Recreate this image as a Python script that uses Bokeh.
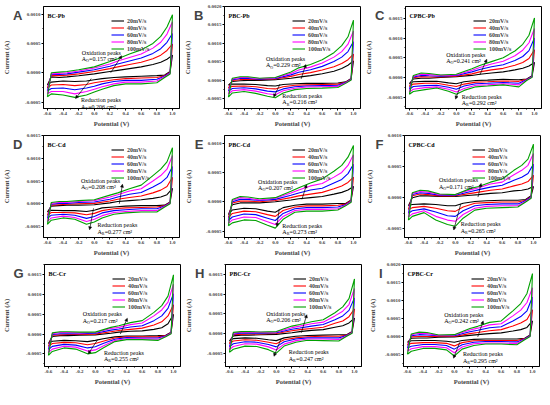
from bokeh.plotting import figure
from bokeh.layouts import column, row
from bokeh.models import (FixedTicker, PrintfTickFormatter, Label, Arrow, NormalHead,
                          Legend, LegendItem, Range1d, LinearAxis)
from bokeh.embed import file_html
from bokeh.resources import INLINE

RATES = ["20mV/s", "40mV/s", "60mV/s", "80mV/s", "100mV/s"]
COLORS = ["#000000", "#ff0000", "#0000ff", "#ff00ff", "#00a000"]

# potential grid (V): anodic (upper) branch and cathodic (lower) branch
UX = [-0.6, -0.55, -0.45, -0.35, -0.2, 0.0, 0.2, 0.3, 0.45, 0.6, 0.75, 0.85, 0.93, 1.0]
LX = [0.97, 0.9, 0.8, 0.6, 0.4, 0.25, 0.1, 0.0, -0.1, -0.25, -0.4, -0.55, -0.6]

# currents in mA, one list per scan rate (20, 40, 60, 80, 100 mV/s)
A_up = [[-0.21, -0.07, -0.08, -0.07, -0.05, -0.02, 0.02, 0.04, 0.07, 0.10, 0.14, 0.18, 0.23, 0.30],
        [-0.26, -0.05, -0.05, -0.04, -0.02, 0.02, 0.07, 0.10, 0.14, 0.18, 0.24, 0.30, 0.38, 0.49],
        [-0.31, -0.03, -0.03, -0.02, 0.01, 0.05, 0.11, 0.15, 0.20, 0.25, 0.33, 0.41, 0.52, 0.67],
        [-0.36, -0.02, -0.01, 0.00, 0.03, 0.08, 0.15, 0.20, 0.26, 0.32, 0.42, 0.52, 0.66, 0.87],
        [-0.41, 0.00, 0.01, 0.02, 0.05, 0.10, 0.19, 0.24, 0.32, 0.39, 0.50, 0.62, 0.78, 0.99]]
A_down = [[0.02, -0.04, -0.05, -0.06, -0.07, -0.08, -0.10, -0.12, -0.14, -0.15, -0.14, -0.16, -0.21],
          [0.01, -0.05, -0.08, -0.09, -0.10, -0.12, -0.15, -0.17, -0.20, -0.22, -0.20, -0.21, -0.26],
          [0.00, -0.06, -0.11, -0.13, -0.13, -0.15, -0.19, -0.23, -0.26, -0.29, -0.26, -0.27, -0.31],
          [-0.01, -0.07, -0.14, -0.16, -0.16, -0.19, -0.24, -0.28, -0.32, -0.36, -0.32, -0.32, -0.36],
          [-0.02, -0.08, -0.17, -0.19, -0.19, -0.22, -0.28, -0.33, -0.38, -0.42, -0.38, -0.36, -0.41]]

B_up = [[-0.13, -0.03, -0.01, 0.00, 0.00, 0.02, 0.06, 0.09, 0.13, 0.18, 0.25, 0.32, 0.41, 0.53],
        [-0.21, 0.00, 0.02, 0.03, 0.02, 0.04, 0.11, 0.16, 0.21, 0.28, 0.37, 0.46, 0.56, 0.71],
        [-0.29, 0.02, 0.05, 0.05, 0.03, 0.05, 0.15, 0.22, 0.29, 0.38, 0.51, 0.63, 0.78, 1.05],
        [-0.37, 0.04, 0.08, 0.08, 0.05, 0.07, 0.19, 0.28, 0.36, 0.47, 0.63, 0.78, 0.98, 1.34],
        [-0.45, 0.06, 0.10, 0.10, 0.06, 0.08, 0.23, 0.34, 0.43, 0.56, 0.75, 0.94, 1.18, 1.63]]
B_down = [[0.05, -0.04, -0.07, -0.08, -0.08, -0.09, -0.11, -0.15, -0.14, -0.11, -0.10, -0.10, -0.13],
          [0.04, -0.05, -0.10, -0.11, -0.12, -0.13, -0.17, -0.23, -0.22, -0.17, -0.15, -0.16, -0.21],
          [0.03, -0.06, -0.13, -0.14, -0.15, -0.17, -0.23, -0.31, -0.29, -0.23, -0.20, -0.22, -0.29],
          [0.02, -0.07, -0.16, -0.17, -0.18, -0.21, -0.28, -0.39, -0.36, -0.29, -0.25, -0.28, -0.37],
          [0.01, -0.08, -0.19, -0.21, -0.22, -0.25, -0.34, -0.47, -0.43, -0.35, -0.30, -0.34, -0.45]]

C_up = [[-0.16, -0.04, -0.02, -0.02, 0.00, 0.02, 0.05, 0.08, 0.11, 0.14, 0.19, 0.23, 0.29, 0.38],
        [-0.23, -0.01, 0.02, 0.01, 0.01, 0.03, 0.09, 0.14, 0.19, 0.23, 0.31, 0.38, 0.48, 0.70],
        [-0.30, 0.01, 0.05, 0.04, 0.03, 0.05, 0.14, 0.20, 0.27, 0.32, 0.43, 0.53, 0.68, 1.00],
        [-0.37, 0.03, 0.08, 0.07, 0.05, 0.06, 0.18, 0.25, 0.34, 0.41, 0.55, 0.69, 0.88, 1.24],
        [-0.43, 0.05, 0.11, 0.10, 0.06, 0.08, 0.22, 0.30, 0.40, 0.50, 0.67, 0.84, 1.07, 1.51]]
C_down = [[0.04, -0.04, -0.06, -0.05, -0.07, -0.08, -0.11, -0.16, -0.14, -0.10, -0.10, -0.11, -0.16],
          [0.03, -0.05, -0.10, -0.09, -0.11, -0.12, -0.17, -0.23, -0.20, -0.15, -0.15, -0.17, -0.23],
          [0.02, -0.06, -0.15, -0.13, -0.15, -0.16, -0.22, -0.30, -0.25, -0.20, -0.21, -0.23, -0.30],
          [0.01, -0.07, -0.19, -0.16, -0.19, -0.20, -0.28, -0.37, -0.30, -0.24, -0.26, -0.30, -0.37],
          [0.00, -0.08, -0.24, -0.19, -0.22, -0.24, -0.33, -0.43, -0.35, -0.27, -0.31, -0.36, -0.43]]

D_up = [[-0.18, -0.05, -0.04, -0.03, -0.03, -0.02, 0.02, 0.05, 0.07, 0.09, 0.12, 0.15, 0.20, 0.34],
        [-0.25, -0.03, -0.02, -0.01, 0.00, 0.01, 0.06, 0.10, 0.14, 0.17, 0.24, 0.30, 0.38, 0.58],
        [-0.32, -0.01, 0.01, 0.01, 0.03, 0.04, 0.10, 0.15, 0.21, 0.25, 0.37, 0.46, 0.58, 0.82],
        [-0.39, 0.01, 0.03, 0.03, 0.05, 0.07, 0.15, 0.20, 0.28, 0.33, 0.50, 0.62, 0.76, 1.06],
        [-0.45, 0.03, 0.05, 0.05, 0.07, 0.09, 0.19, 0.24, 0.33, 0.41, 0.62, 0.76, 0.92, 1.23]]
D_down = [[0.04, -0.03, -0.04, -0.04, -0.05, -0.07, -0.09, -0.14, -0.17, -0.15, -0.15, -0.14, -0.18],
          [0.03, -0.04, -0.07, -0.08, -0.09, -0.11, -0.15, -0.21, -0.24, -0.20, -0.19, -0.19, -0.25],
          [0.02, -0.05, -0.11, -0.11, -0.13, -0.15, -0.20, -0.28, -0.32, -0.25, -0.23, -0.25, -0.32],
          [0.01, -0.06, -0.15, -0.15, -0.17, -0.19, -0.26, -0.34, -0.39, -0.30, -0.27, -0.31, -0.39],
          [0.00, -0.07, -0.18, -0.18, -0.20, -0.23, -0.31, -0.40, -0.45, -0.34, -0.31, -0.36, -0.45]]

E_up = [[-0.22, -0.05, -0.02, -0.02, -0.02, 0.00, 0.03, 0.05, 0.07, 0.09, 0.13, 0.16, 0.20, 0.26],
        [-0.27, -0.02, 0.01, 0.01, 0.00, 0.02, 0.07, 0.10, 0.13, 0.16, 0.22, 0.27, 0.33, 0.42],
        [-0.32, 0.00, 0.04, 0.04, 0.02, 0.04, 0.11, 0.15, 0.20, 0.23, 0.32, 0.38, 0.48, 0.64],
        [-0.37, 0.02, 0.07, 0.06, 0.03, 0.06, 0.15, 0.20, 0.27, 0.31, 0.42, 0.50, 0.62, 0.80],
        [-0.41, 0.04, 0.09, 0.08, 0.05, 0.07, 0.18, 0.24, 0.32, 0.39, 0.52, 0.62, 0.76, 0.96]]
E_down = [[0.03, -0.03, -0.03, -0.04, -0.04, -0.06, -0.10, -0.18, -0.16, -0.12, -0.11, -0.14, -0.22],
          [0.02, -0.04, -0.06, -0.07, -0.07, -0.09, -0.15, -0.25, -0.22, -0.17, -0.16, -0.20, -0.27],
          [0.01, -0.05, -0.09, -0.10, -0.10, -0.12, -0.20, -0.32, -0.28, -0.22, -0.21, -0.26, -0.32],
          [0.00, -0.06, -0.12, -0.13, -0.13, -0.15, -0.25, -0.39, -0.34, -0.27, -0.26, -0.31, -0.37],
          [-0.01, -0.07, -0.14, -0.16, -0.16, -0.18, -0.30, -0.45, -0.40, -0.32, -0.31, -0.36, -0.41]]

F_up = [[-0.13, 0.00, 0.03, 0.03, 0.02, 0.02, 0.04, 0.05, 0.07, 0.08, 0.11, 0.12, 0.14, 0.18],
        [-0.19, 0.03, 0.06, 0.05, 0.03, 0.03, 0.07, 0.09, 0.12, 0.14, 0.19, 0.22, 0.26, 0.36],
        [-0.25, 0.05, 0.08, 0.07, 0.04, 0.04, 0.10, 0.13, 0.17, 0.20, 0.28, 0.33, 0.39, 0.54],
        [-0.31, 0.07, 0.10, 0.09, 0.05, 0.05, 0.13, 0.16, 0.22, 0.25, 0.37, 0.44, 0.52, 0.71],
        [-0.36, 0.08, 0.12, 0.11, 0.06, 0.05, 0.15, 0.18, 0.25, 0.30, 0.44, 0.52, 0.62, 0.86]]
F_down = [[0.03, -0.03, -0.04, -0.04, -0.05, -0.06, -0.09, -0.13, -0.13, -0.11, -0.10, -0.11, -0.13],
          [0.02, -0.04, -0.07, -0.07, -0.08, -0.09, -0.15, -0.22, -0.21, -0.17, -0.14, -0.16, -0.19],
          [0.01, -0.05, -0.10, -0.10, -0.11, -0.13, -0.21, -0.30, -0.29, -0.23, -0.18, -0.21, -0.25],
          [0.00, -0.06, -0.13, -0.13, -0.14, -0.17, -0.27, -0.38, -0.36, -0.30, -0.21, -0.26, -0.31],
          [-0.01, -0.07, -0.15, -0.16, -0.17, -0.20, -0.33, -0.46, -0.43, -0.36, -0.24, -0.30, -0.36]]

G_up = [[-0.24, -0.06, -0.04, -0.04, -0.03, -0.02, 0.02, 0.05, 0.07, 0.08, 0.12, 0.16, 0.26, 0.50],
        [-0.31, -0.03, -0.02, -0.01, -0.01, 0.00, 0.06, 0.09, 0.12, 0.15, 0.23, 0.31, 0.46, 0.74],
        [-0.39, -0.01, 0.01, 0.01, 0.01, 0.02, 0.10, 0.13, 0.18, 0.21, 0.34, 0.46, 0.65, 1.02],
        [-0.47, 0.01, 0.04, 0.04, 0.03, 0.04, 0.14, 0.17, 0.24, 0.28, 0.46, 0.61, 0.81, 1.26],
        [-0.54, 0.03, 0.06, 0.06, 0.05, 0.05, 0.17, 0.21, 0.29, 0.34, 0.55, 0.72, 0.96, 1.50]]
G_down = [[0.05, -0.03, -0.04, -0.05, -0.05, -0.07, -0.12, -0.16, -0.19, -0.17, -0.16, -0.18, -0.24],
          [0.04, -0.04, -0.07, -0.07, -0.07, -0.10, -0.18, -0.24, -0.27, -0.22, -0.21, -0.24, -0.31],
          [0.03, -0.05, -0.10, -0.10, -0.09, -0.13, -0.24, -0.32, -0.35, -0.28, -0.26, -0.31, -0.39],
          [0.02, -0.06, -0.13, -0.12, -0.12, -0.16, -0.30, -0.40, -0.43, -0.33, -0.31, -0.38, -0.47],
          [0.01, -0.07, -0.16, -0.14, -0.14, -0.19, -0.35, -0.47, -0.50, -0.38, -0.35, -0.44, -0.54]]

H_up = [[-0.19, -0.06, -0.04, -0.04, -0.03, -0.02, 0.02, 0.05, 0.08, 0.10, 0.16, 0.20, 0.27, 0.39],
        [-0.26, -0.03, -0.02, -0.01, -0.01, 0.00, 0.07, 0.10, 0.13, 0.16, 0.26, 0.32, 0.43, 0.63],
        [-0.34, -0.01, 0.01, 0.01, 0.01, 0.02, 0.11, 0.14, 0.19, 0.23, 0.35, 0.45, 0.59, 0.91],
        [-0.41, 0.01, 0.03, 0.03, 0.03, 0.04, 0.15, 0.19, 0.25, 0.29, 0.45, 0.57, 0.74, 1.15],
        [-0.48, 0.03, 0.05, 0.05, 0.04, 0.05, 0.19, 0.23, 0.30, 0.35, 0.53, 0.68, 0.89, 1.39]]
H_down = [[0.05, -0.03, -0.03, -0.04, -0.05, -0.07, -0.11, -0.18, -0.16, -0.12, -0.11, -0.13, -0.19],
          [0.04, -0.04, -0.07, -0.07, -0.08, -0.11, -0.16, -0.26, -0.22, -0.17, -0.16, -0.19, -0.26],
          [0.03, -0.05, -0.11, -0.11, -0.11, -0.14, -0.21, -0.34, -0.28, -0.22, -0.21, -0.26, -0.34],
          [0.02, -0.06, -0.15, -0.14, -0.14, -0.18, -0.27, -0.42, -0.34, -0.27, -0.26, -0.33, -0.41],
          [0.01, -0.07, -0.19, -0.18, -0.17, -0.22, -0.32, -0.50, -0.41, -0.33, -0.32, -0.40, -0.48]]

I_up = [[-0.15, -0.04, -0.03, -0.03, -0.01, 0.00, 0.04, 0.06, 0.09, 0.11, 0.16, 0.20, 0.26, 0.44],
        [-0.23, 0.00, 0.01, 0.01, 0.01, 0.01, 0.09, 0.12, 0.17, 0.20, 0.30, 0.38, 0.48, 0.75],
        [-0.31, 0.03, 0.06, 0.05, 0.03, 0.03, 0.14, 0.18, 0.25, 0.28, 0.44, 0.56, 0.72, 1.10],
        [-0.40, 0.06, 0.10, 0.09, 0.04, 0.05, 0.19, 0.24, 0.33, 0.36, 0.58, 0.74, 0.95, 1.36],
        [-0.48, 0.08, 0.13, 0.12, 0.05, 0.06, 0.23, 0.29, 0.40, 0.44, 0.72, 0.92, 1.20, 1.75]]
I_down = [[0.05, -0.04, -0.06, -0.06, -0.06, -0.07, -0.10, -0.15, -0.12, -0.10, -0.10, -0.11, -0.15],
          [0.04, -0.05, -0.10, -0.10, -0.10, -0.11, -0.16, -0.25, -0.18, -0.16, -0.16, -0.18, -0.23],
          [0.03, -0.06, -0.14, -0.13, -0.13, -0.15, -0.22, -0.34, -0.24, -0.21, -0.21, -0.26, -0.31],
          [0.02, -0.07, -0.18, -0.17, -0.17, -0.19, -0.28, -0.44, -0.30, -0.27, -0.27, -0.33, -0.40],
          [0.01, -0.08, -0.22, -0.20, -0.20, -0.24, -0.34, -0.53, -0.36, -0.32, -0.32, -0.40, -0.48]]

LETTERS = ["A", "B", "C", "D", "E", "F", "G", "H", "I"]
NAMES = ["BC-Pb", "PBC-Pb", "CPBC-Pb", "BC-Cd", "PBC-Cd", "CPBC-Cd", "BC-Cr", "PBC-Cr", "CPBC-Cr"]
UPS = [A_up, B_up, C_up, D_up, E_up, F_up, G_up, H_up, I_up]
DOWNS = [A_down, B_down, C_down, D_down, E_down, F_down, G_down, H_down, I_down]
AO = ["0.157", "0.229", "0.241", "0.208", "0.207", "0.171", "0.217", "0.206", "0.242"]
AR = ["0.206", "0.216", "0.292", "0.277", "0.273", "0.265", "0.255", "0.247", "0.295"]
X_TICKS = [-0.6, -0.4, -0.2, 0.0, 0.2, 0.4, 0.6, 0.8, 1.0]
X_MINOR = [-0.5, -0.3, -0.1, 0.1, 0.3, 0.5, 0.7, 0.9]

# axis limits (mA) and annotation placement (layout settings)
YLIM = [(-0.61, 1.13), (-0.76, 2.0), (-0.79, 1.8), (-0.74, 1.5), (-0.61, 1.13),
        (-0.64, 1.0), (-0.82, 1.76), (-0.84, 1.76), (-0.82, 2.0)]
OX_TXT = [(-0.16, 0.34), (-0.12, 0.58), (-0.13, 0.58), (-0.17, 0.51), (-0.22, 0.34),
          (-0.21, 0.28), (-0.16, 0.50), (-0.13, 0.51), (-0.13, 0.61)]
OX_ARR = [(0.21, 0.0, 0.35, 0.29), (0.33, 0.04, 0.39, 0.43), (0.30, 0.06, 0.39, 0.46),
          (0.32, 0.0, 0.36, 0.43), (0.34, 0.04, 0.40, 0.29), (0.29, 0.01, 0.33, 0.23),
          (0.32, 0.0, 0.41, 0.40), (0.32, 0.02, 0.39, 0.48), (0.30, 0.0, 0.37, 0.44)]
RE_TXT = [(-0.17, -0.47), (0.09, -0.42), (0.07, -0.49), (0.04, -0.47), (0.09, -0.41),
          (0.07, -0.43), (0.11, -0.47), (0.16, -0.48), (0.11, -0.48)]
RE_ARR = [(-0.04, -0.10, -0.24, -0.44), (0.06, -0.10, -0.02, -0.45), (0.07, -0.13, -0.01, -0.55),
          (-0.01, -0.10, -0.06, -0.57), (0.05, -0.12, 0.02, -0.42), (0.07, -0.10, -0.02, -0.52),
          (0.03, -0.14, -0.09, -0.50), (0.06, -0.14, -0.03, -0.58), (0.07, -0.15, -0.01, -0.59)]

SERIF = "Liberation Serif"
BL, BR, BT, BB = 40, 2, 6, 21
FW, FH = 136, 102
XLO, XHI = -0.65, 1.09


def txt(p, x, y, text, size="6px", style="normal", xo=0, yo=0, font=SERIF, base="middle"):
    p.add_layout(Label(x=x, y=y, text=text, text_font=font,
                       text_font_size=size, text_font_style=style, text_baseline=base,
                       text_align="left", x_offset=xo, y_offset=yo, text_color="black"))


def area(p, x, y, sub, val, yo):
    txt(p, x, y, "A", yo=yo)
    txt(p, x, y, sub, size="4px", xo=4.3, yo=yo - 1.6)
    txt(p, x, y, "=" + val + " cm\u00b2", xo=7.2, yo=yo)


def style_axis(ax, size="5px"):
    ax.axis_label_text_font = SERIF
    ax.axis_label_text_font_style = "bold"
    ax.axis_label_text_font_size = "6.5px"
    ax.axis_label_standoff = 2
    ax.major_label_text_font = SERIF
    ax.major_label_text_font_style = "bold"
    ax.major_label_text_font_size = size
    ax.major_label_standoff = 1
    ax.major_tick_in = 0
    ax.major_tick_out = 2
    ax.minor_tick_in = 0
    ax.minor_tick_out = 1
    ax.axis_line_color = "black"
    ax.major_tick_line_color = "black"
    ax.minor_tick_line_color = "black"


def make(i):
    lo, hi = YLIM[i]
    p = figure(frame_width=FW, frame_height=FH, x_range=Range1d(XLO, XHI),
               y_range=Range1d(lo * 1e-3, hi * 1e-3), output_backend="svg",
               toolbar_location=None, min_border_left=BL, min_border_right=BR,
               min_border_top=BT, min_border_bottom=BB)
    p.grid.visible = False
    p.outline_line_color = "black"
    p.outline_line_width = 1
    p.outline_line_alpha = 1
    yt = [k * 0.0005 for k in range(-1, 5) if k * 0.5 <= hi + 1e-9]
    ym = [(k + 0.5) * 0.0005 for k in range(-2, 5) if lo <= (k + 0.5) * 0.5 <= hi]
    p.xaxis.ticker = FixedTicker(ticks=X_TICKS, minor_ticks=X_MINOR)
    p.xaxis.formatter = PrintfTickFormatter(format="%.1f")
    p.yaxis.ticker = FixedTicker(ticks=yt, minor_ticks=ym)
    p.yaxis.formatter = PrintfTickFormatter(format="%.4f")
    p.xaxis.axis_label = "Potential (V)"
    style_axis(p.xaxis[0])
    style_axis(p.yaxis[0])

    # outer left axis: carries the panel letter (its only tick label) and the axis title
    dy = (hi - lo) / FH
    outer = LinearAxis(ticker=FixedTicker(ticks=[(hi - 9 * dy) * 1e-3]),
                       formatter=PrintfTickFormatter(format=LETTERS[i]),
                       axis_label="Current (A)")
    style_axis(outer, "13px")
    outer.major_label_text_font = "Liberation Sans"
    outer.major_label_standoff = 0
    outer.major_tick_out = 0
    outer.minor_tick_out = 0
    outer.axis_line_color = None
    outer.major_tick_line_color = None
    outer.minor_tick_line_color = None
    outer.axis_label_standoff = 0
    p.add_layout(outer, "left")

    items = []
    for k in range(5):
        xs = UX + LX
        ys = [v * 1e-3 for v in UPS[i][k] + DOWNS[i][k]]
        r = p.line(xs, ys, line_color=COLORS[k], line_width=1.1)
        items.append(LegendItem(label=RATES[k], renderers=[r]))
    leg = Legend(items=items, location=(68, 56), label_text_font=SERIF,
                 label_text_font_style="bold", label_text_font_size="6px",
                 label_height=7, glyph_height=7, glyph_width=13, spacing=0,
                 padding=0, margin=0, label_standoff=3, border_line_alpha=0,
                 background_fill_alpha=0)
    p.add_layout(leg, "center")

    dx = (XHI - XLO) / FW
    txt(p, XLO + 4 * dx, (hi - 9 * dy) * 1e-3, NAMES[i], size="6px", style="bold")

    ox, oy = OX_TXT[i]
    txt(p, ox, oy * 1e-3, "Oxidation peaks")
    area(p, ox, oy * 1e-3, "O", AO[i], -6.5)
    rx, ry = RE_TXT[i]
    txt(p, rx, ry * 1e-3, "Reduction peaks")
    area(p, rx, ry * 1e-3, "R", AR[i], -6.5)
    for (x0, y0, x1, y1) in (OX_ARR[i], RE_ARR[i]):
        p.add_layout(Arrow(end=NormalHead(size=3, line_color="black", fill_color="black",
                                          line_width=0.5),
                           x_start=x0, y_start=y0 * 1e-3, x_end=x1, y_end=y1 * 1e-3,
                           line_color="black", line_width=0.7))
    return p


figs = [make(i) for i in range(9)]
layout = column(row(figs[0], figs[1], figs[2]), row(figs[3], figs[4], figs[5]),
                row(figs[6], figs[7], figs[8]))
open("out.html", "w").write(file_html(layout, INLINE))
